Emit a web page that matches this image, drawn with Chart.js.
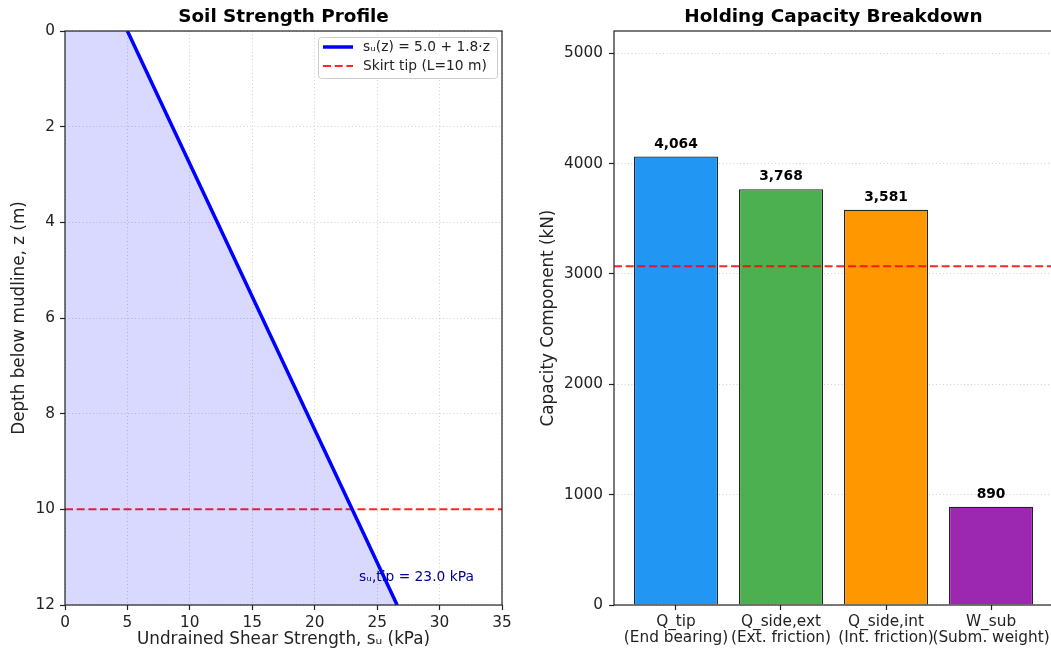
<!DOCTYPE html>
<html>
<head>
<meta charset="utf-8">
<title>Suction caisson capacity</title>
<script src="https://cdn.jsdelivr.net/npm/chart.js@4/dist/chart.umd.min.js"></script>
<style>
  html, body { margin: 0; padding: 0; background: #fff; overflow: hidden; width: 1051px; height: 653px; }
  canvas { position: absolute; top: 0; }
  #soil { left: 0; }
  #capacity { left: 520px; }
</style>
</head>
<body>
<canvas id="soil" width="525" height="653" style="width:525px;height:653px"></canvas>
<canvas id="capacity" width="535" height="653" style="width:535px;height:653px"></canvas>
<script>
// soil profile
const depth = [0, 2, 4, 6, 8, 10, 12];
const suProfile = [5.0, 8.6, 12.2, 15.8, 19.4, 23.0, 26.6];
const skirtDepth = 10;
const suTipLabel = 'sᵤ,tip = 23.0 kPa';
const suTipLabelPos = { x: 28.15, y: 11.42 };
const suTicks = [0, 5, 10, 15, 20, 25, 30, 35];
const depthTicks = [0, 2, 4, 6, 8, 10, 12];

// capacity breakdown, right panel
const components = [
  ['Q_tip', '(End bearing)'],
  ['Q_side,ext', '(Ext. friction)'],
  ['Q_side,int', '(Int. friction)'],
  ['W_sub', '(Subm. weight)']
];
const capacity = [4064, 3768, 3581, 890];
const barColors = ['#2196F3', '#4CAF50', '#FF9800', '#9C27B0'];
const designLoad = 3071;
const capacityTicks = [0, 1000, 2000, 3000, 4000, 5000];
const componentPos = [0, 1, 2, 3];
const xRange = [-0.59, 3.59];

Chart.defaults.font.family = '"DejaVu Sans", sans-serif';
Chart.defaults.color = '#222';

const FONT_TICK = { size: 15.3 };
const FONT_LABEL = { size: 16.8 };
const FONT_SMALL = '13.8px "DejaVu Sans"';
const GRID = {
  color: 'rgba(150,150,150,0.45)', lineWidth: 1,
  tickColor: '#222', tickWidth: 1.2, tickLength: 5, tickBorderDash: []
};
const DOTS = { display: false, dash: [1, 2.5] };
const RED = 'rgba(255,0,0,0.85)';

const fixedTicks = (values) => (scale) => { scale.ticks = values.map(v => ({ value: v })); };

// title above the plot box, matplotlib style
const panelTitle = {
  id: 'panelTitle',
  afterDraw(chart, args, opts) {
    const { ctx, chartArea: a } = chart;
    ctx.save();
    ctx.font = 'bold 18.4px "DejaVu Sans"';
    ctx.fillStyle = '#000';
    ctx.textAlign = 'center';
    ctx.textBaseline = 'middle';
    ctx.fillText(opts.text, (a.left + a.right) / 2, 17);
    ctx.restore();
  }
};

// all four spines
const frame = {
  id: 'frame',
  afterDraw(chart) {
    const { ctx, chartArea: a } = chart;
    ctx.save();
    ctx.setLineDash([]);
    ctx.strokeStyle = '#222';
    ctx.lineWidth = 1.2;
    ctx.strokeRect(a.left, a.top, a.right - a.left, a.bottom - a.top);
    ctx.restore();
  }
};

const insideLegend = {
  id: 'insideLegend',
  afterDraw(chart) {
    const { ctx, chartArea: a } = chart;
    const w = 179, h = 41;
    const x0 = a.right - 5 - w, y0 = a.top + 6;
    ctx.save();
    ctx.fillStyle = 'rgba(255,255,255,0.85)';
    ctx.strokeStyle = '#cccccc';
    ctx.lineWidth = 1;
    ctx.beginPath();
    ctx.roundRect(x0 + 0.5, y0 + 0.5, w, h, 3);
    ctx.fill();
    ctx.stroke();
    chart.data.datasets.forEach((ds, i) => {
      const yy = y0 + 10 + i * 19;
      ctx.strokeStyle = ds.borderColor;
      ctx.lineWidth = ds.borderWidth;
      ctx.setLineDash(ds.borderDash || []);
      ctx.beginPath();
      ctx.moveTo(x0 + 5, yy);
      ctx.lineTo(x0 + 35, yy);
      ctx.stroke();
      ctx.setLineDash([]);
      ctx.fillStyle = '#222';
      ctx.font = FONT_SMALL;
      ctx.textAlign = 'left';
      ctx.textBaseline = 'middle';
      ctx.fillText(ds.label, x0 + 45, yy);
    });
    ctx.restore();
  }
};

const tipNote = {
  id: 'tipNote',
  beforeDatasetsDraw(chart) {
    const { ctx, scales } = chart;
    ctx.save();
    ctx.font = FONT_SMALL;
    ctx.fillStyle = '#00008B';
    ctx.textAlign = 'center';
    ctx.textBaseline = 'middle';
    ctx.fillText(suTipLabel, scales.x.getPixelForValue(suTipLabelPos.x), scales.y.getPixelForValue(suTipLabelPos.y));
    ctx.restore();
  }
};

const barValues = {
  id: 'barValues',
  afterDatasetsDraw(chart) {
    const { ctx } = chart;
    const meta = chart.getDatasetMeta(1);
    ctx.save();
    ctx.font = 'bold ' + FONT_SMALL;
    ctx.fillStyle = '#000';
    ctx.textAlign = 'center';
    ctx.textBaseline = 'alphabetic';
    meta.data.forEach((bar, i) => {
      ctx.fillText(capacity[i].toLocaleString('en-US'), bar.x, bar.y - 9);
    });
    ctx.restore();
  }
};

new Chart(document.getElementById('soil'), {
  type: 'line',
  data: {
    datasets: [
      {
        label: 'sᵤ(z) = 5.0 + 1.8·z',
        data: depth.map((z, i) => ({ x: suProfile[i], y: z })),
        borderColor: '#0000ff',
        borderWidth: 3.5,
        backgroundColor: 'rgba(0,0,255,0.15)',
        fill: 'origin',
        pointRadius: 0,
        tension: 0
      },
      {
        label: 'Skirt tip (L=10 m)',
        data: [{ x: suTicks[0], y: skirtDepth }, { x: suTicks[suTicks.length - 1], y: skirtDepth }],
        borderColor: RED,
        borderWidth: 2,
        borderDash: [8, 3.7],
        pointRadius: 0,
        fill: false
      }
    ]
  },
  options: {
    indexAxis: 'y',
    responsive: false,
    animation: false,
    events: [],
    layout: { padding: { top: 31, right: 23, left: 0, bottom: 0 } },
    plugins: {
      legend: { display: false },
      tooltip: { enabled: false },
      panelTitle: { text: 'Soil Strength Profile' }
    },
    scales: {
      x: {
        type: 'linear', position: 'bottom', min: 0, max: 35,
        afterBuildTicks: fixedTicks(suTicks),
        afterFit: (s) => { s.height = 48; },
        ticks: { font: FONT_TICK, padding: 4, maxRotation: 0, callback: v => String(v) },
        grid: GRID,
        border: DOTS,
        title: { display: true, text: 'Undrained Shear Strength, sᵤ (kPa)', font: FONT_LABEL, padding: { top: 0, bottom: 3 } }
      },
      y: {
        type: 'linear', position: 'left', min: 0, max: 12, reverse: true,
        afterBuildTicks: fixedTicks(depthTicks),
        afterFit: (s) => { s.width = 65; },
        ticks: { font: FONT_TICK, padding: 5, callback: v => String(v) },
        grid: GRID,
        border: DOTS,
        title: { display: true, text: 'Depth below mudline, z (m)', font: FONT_LABEL, padding: { top: 10, bottom: 0 } }
      }
    }
  },
  plugins: [tipNote, frame, insideLegend, panelTitle]
});

new Chart(document.getElementById('capacity'), {
  type: 'bar',
  data: {
    datasets: [
      {
        type: 'line',
        label: 'Design load',
        data: [{ x: xRange[0], y: designLoad }, { x: xRange[1], y: designLoad }],
        borderColor: RED,
        borderWidth: 2,
        borderDash: [8, 3.7],
        pointRadius: 0,
        fill: false,
        order: 0
      },
      {
        label: 'Capacity',
        data: capacity.map((v, i) => ({ x: componentPos[i], y: v })),
        backgroundColor: barColors,
        borderColor: '#222',
        borderWidth: 1.2,
        barPercentage: 0.8,
        categoryPercentage: 1,
        order: 1
      }
    ]
  },
  options: {
    responsive: false,
    animation: false,
    events: [],
    layout: { padding: { top: 31, right: 2, left: 0, bottom: 0 } },
    plugins: {
      legend: { display: false },
      tooltip: { enabled: false },
      panelTitle: { text: 'Holding Capacity Breakdown' }
    },
    scales: {
      x: {
        type: 'linear', position: 'bottom', min: xRange[0], max: xRange[1],
        offset: false,
        afterBuildTicks: fixedTicks(componentPos),
        afterFit: (s) => { s.height = 48; },
        ticks: { font: { size: 15.3, lineHeight: 1.05 }, padding: 4, maxRotation: 0, autoSkip: false, callback: v => components[v] },
        grid: Object.assign({}, GRID, { offset: false, drawOnChartArea: false }),
        border: { display: false }
      },
      y: {
        type: 'linear', position: 'left', min: 0, max: 5202,
        afterBuildTicks: fixedTicks(capacityTicks),
        afterFit: (s) => { s.width = 94; },
        ticks: { font: FONT_TICK, padding: 6, callback: v => String(v) },
        grid: GRID,
        border: DOTS,
        title: { display: true, text: 'Capacity Component (kN)', font: FONT_LABEL, padding: { top: 19, bottom: 0 } }
      }
    }
  },
  plugins: [frame, barValues, panelTitle]
});
</script>
</body>
</html>
